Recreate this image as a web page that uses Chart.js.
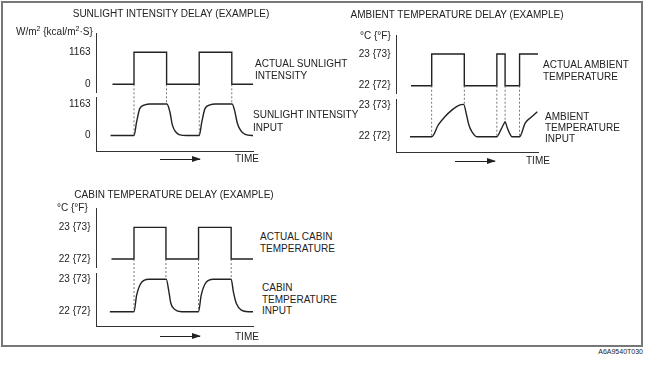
<!DOCTYPE html>
<html>
<head>
<meta charset="utf-8">
<title>Sensor delay (example)</title>
<script src="https://cdn.jsdelivr.net/npm/chart.js@4.4.1/dist/chart.umd.min.js"></script>
<style>
  body { margin: 0; background: #fff; }
  #page { position: relative; width: 645px; height: 367px; overflow: hidden; font-family: "Liberation Sans", Arial, sans-serif; font-size: 10px; color: #222; }
  #frame { position: absolute; left: 1px; top: 1px; width: 642px; height: 346px; border: 2px solid #777; box-sizing: border-box; }
  canvas { position: absolute; }
  .txt { position: absolute; white-space: nowrap; line-height: 12px; }
  .ttl { transform: translateX(-50%); }
  .arrow { position: absolute; width: 40px; height: 1px; background: #222; }
  .arrow:after { content: ""; position: absolute; right: -1px; top: -3px; border-left: 9px solid #222; border-top: 3.5px solid transparent; border-bottom: 3.5px solid transparent; }
  sup { font-size: 7px; vertical-align: 0; position: relative; top: -4px; }
  #code { position: absolute; right: 2px; top: 348px; font-size: 7px; line-height: 8px; }
</style>
</head>
<body>
<div id="page">
  <div id="frame"></div>
  <canvas id="sun" width="260" height="160" style="left:0;top:0"></canvas>
  <canvas id="amb" width="250" height="165" style="left:300px;top:0"></canvas>
  <canvas id="cab" width="260" height="160" style="left:0;top:175px"></canvas>

  <!-- titles -->
  <div class="txt ttl" style="left:171px;top:8px">SUNLIGHT INTENSITY DELAY (EXAMPLE)</div>
  <div class="txt ttl" style="left:457px;top:9px">AMBIENT TEMPERATURE DELAY (EXAMPLE)</div>
  <div class="txt ttl" style="left:174px;top:189px">CABIN TEMPERATURE DELAY (EXAMPLE)</div>

  <!-- units -->
  <div class="txt" style="left:16px;top:26px">W/m<sup>2</sup> {kcal/m<sup>2</sup>·S}</div>
  <div class="txt" style="left:360px;top:30px">°C {°F}</div>
  <div class="txt" style="left:57px;top:202px">°C {°F}</div>

  <!-- signal names -->
  <div class="txt" style="left:255px;top:58px">ACTUAL SUNLIGHT<br>INTENSITY</div>
  <div class="txt" style="left:253px;top:109px;line-height:12.5px">SUNLIGHT INTENSITY<br>INPUT</div>
  <div class="txt" style="left:543px;top:59px;line-height:11.5px">ACTUAL AMBIENT<br>TEMPERATURE</div>
  <div class="txt" style="left:545px;top:111px;line-height:11.2px">AMBIENT<br>TEMPERATURE<br>INPUT</div>
  <div class="txt" style="left:260px;top:231px;line-height:11.6px">ACTUAL CABIN<br>TEMPERATURE</div>
  <div class="txt" style="left:262px;top:282px;line-height:11.7px">CABIN<br>TEMPERATURE<br>INPUT</div>

  <!-- time arrows -->
  <div class="arrow" style="left:160px;top:159px"></div>
  <div class="txt" style="left:235px;top:153px">TIME</div>
  <div class="arrow" style="left:455px;top:161px"></div>
  <div class="txt" style="left:526px;top:155px">TIME</div>
  <div class="arrow" style="left:160px;top:336px"></div>
  <div class="txt" style="left:235px;top:331px">TIME</div>

  <div id="code">A6A9540T030</div>
</div>

<script>
// sunlight intensity (W/m2)
const sunActualTime = [4.9, 11.5, 21.5, 31.5, 41.5, 48];
const sunActualValue = [0, 1163, 0, 1163, 0, 0];
const sunInputTime = [4.3, 11.5, 12.3, 13.3, 14.8, 16.4, 21.6, 22.5, 23.3, 24.4, 25.6, 27.6, 31.5, 32.3, 33.3, 34.8, 36.4, 41.6, 42.4, 43.2, 44.3, 45.6, 47.6, 48];
const sunInputValue = [0, 0, 500, 1000, 1130, 1163, 1163, 875, 375, 120, 25, 0, 0, 500, 1000, 1130, 1163, 1163, 900, 450, 170, 40, 0, 0];
const sunTicks = [0, 1163];
const sunTickLabels = ['0', '1163'];
const sunDelayTime = [11.5, 21.5, 31.5, 41.5];
const sunDelayInput = [0, 1163, 0, 1163];

// ambient temperature (deg C)
const ambActualTime = [4.4, 10.7, 20.6, 30.5, 33.0, 37.4, 43];
const ambActualValue = [22, 23, 22, 23, 22, 23, 23];
const ambInputTime = [4.1, 10.7, 12.7, 14.7, 16.8, 18.8, 20.4, 21.3, 22.0, 22.9, 24.4, 25.9, 30.5, 31.8, 32.6, 33.0, 33.6, 34.4, 35.1, 37.4, 39.1, 41.0, 42.8];
const ambInputValue = [22, 22, 22.37, 22.63, 22.84, 22.98, 23.02, 22.68, 22.37, 22.16, 22.0, 22, 22, 22.24, 22.4, 22.47, 22.3, 22.1, 22, 22, 22.43, 22.62, 22.79];
const ambDelayTime = [10.7, 20.6, 30.5, 33.0, 37.4];
const ambDelayInput = [22, 23.02, 22, 22.47, 22];

// cabin temperature (deg C)
const cabActualTime = [4.6, 11.5, 21.3, 31.3, 41.3, 48];
const cabActualValue = [22, 23, 22, 23, 22, 22];
const cabInputTime = [4.1, 11.5, 12.3, 13.8, 16.0, 21.4, 22.2, 22.8, 24.0, 26.1, 31.3, 32.1, 33.6, 35.8, 41.3, 42.0, 42.9, 44.4, 46.5, 48];
const cabInputValue = [22, 22, 22.5, 22.9, 23, 23, 22.62, 22.26, 22.07, 22, 22, 22.5, 22.9, 23, 23, 22.6, 22.25, 22.05, 22, 22];
const tempTicks = [22, 23];
const tempTickLabels = ['22 {72}', '23 {73}'];
const cabDelayTime = [11.5, 21.3, 31.3, 41.3];
const cabDelayInput = [22, 23, 22, 23];

Chart.defaults.font.family = '"Liberation Sans", Arial, sans-serif';
Chart.defaults.font.size = 10;
Chart.defaults.color = '#222';

function pairs(xs, ys) {
    return xs.map((x, i) => ({ x: x, y: ys[i] }));
}

// dashed lines from the actual signal down to the input signal
function delayLines(times, base, to) {
    return {
        id: 'delayLines',
        afterDatasetsDraw(chart) {
            const ctx = chart.ctx, s = chart.scales;
            ctx.save();
            ctx.strokeStyle = '#555';
            ctx.lineWidth = 0.8;
            ctx.setLineDash([2, 2]);
            times.forEach((t, i) => {
                const x = s.x.getPixelForValue(t);
                ctx.beginPath();
                ctx.moveTo(x, s.yTop.getPixelForValue(base));
                ctx.lineTo(x, s.yBot.getPixelForValue(to[i]));
                ctx.stroke();
            });
            ctx.restore();
        }
    };
}

function yAxis(min, max, part, order, ticks, labels) {
    return {
        type: 'linear', position: 'left', stack: 'p', stackWeight: part, weight: order,
        min: min, max: max,
        grid: { display: false, drawTicks: false },
        border: { color: '#333', width: 1 },
        ticks: { padding: 6, font: { size: 10 }, callback: (v, i) => labels[i] },
        afterBuildTicks: s => { s.ticks = ticks.map(v => ({ value: v })); },
        afterFit: s => { s.width = 50; s.paddingTop = 0; s.paddingBottom = 0; }
    };
}

function drawPanel(id, p) {
    return new Chart(document.getElementById(id), {
        type: 'line',
        data: {
            datasets: [
                { data: pairs(p.actualTime, p.actualValue), yAxisID: 'yTop', stepped: true },
                { data: pairs(p.inputTime, p.inputValue), yAxisID: 'yBot', cubicInterpolationMode: 'monotone' }
            ]
        },
        options: {
            responsive: false,
            animation: false,
            layout: { padding: p.padding },
            plugins: { legend: { display: false }, tooltip: { enabled: false } },
            elements: {
                point: { radius: 0 },
                line: { borderColor: '#222', borderWidth: 1.4, fill: false }
            },
            scales: {
                x: {
                    type: 'linear', min: 0, max: p.xMax,
                    ticks: { display: false }, grid: { display: false, drawTicks: false },
                    border: { color: '#333', width: 1 },
                    afterFit: s => { s.height = 0; }
                },
                yTop: yAxis(p.top[0], p.top[1], p.parts[0], 3, p.ticks, p.labels),
                yGap: {
                    type: 'linear', position: 'left', stack: 'p', stackWeight: p.parts[1], weight: 2,
                    min: 0, max: 1, grid: { display: false, drawTicks: false }, border: { display: false },
                    ticks: { display: false },
                    afterFit: s => { s.width = 50; s.paddingTop = 0; s.paddingBottom = 0; }
                },
                yBot: yAxis(p.bot[0], p.bot[1], p.parts[2], 1, p.ticks, p.labels)
            }
        },
        plugins: [delayLines(p.delayTime, p.ticks[0], p.delayInput)]
    });
}

drawPanel('sun', {
    actualTime: sunActualTime, actualValue: sunActualValue,
    inputTime: sunInputTime, inputValue: sunInputValue,
    ticks: sunTicks, labels: sunTickLabels,
    delayTime: sunDelayTime, delayInput: sunDelayInput,
    xMax: 48, top: [-280, 1864], bot: [-590, 1421], parts: [59, 5, 54.5],
    padding: { top: 33, right: 7, bottom: 8.5, left: 46.5 }
});

drawPanel('amb', {
    actualTime: ambActualTime, actualValue: ambActualValue,
    inputTime: ambInputTime, inputValue: ambInputValue,
    ticks: tempTicks, labels: tempTickLabels,
    delayTime: ambDelayTime, delayInput: ambDelayInput,
    xMax: 43, top: [21.754, 23.6], bot: [21.517, 23.19], parts: [58.5, 5.5, 53],
    padding: { top: 35, right: 12, bottom: 13, left: 46.5 }
});

drawPanel('cab', {
    actualTime: cabActualTime, actualValue: cabActualValue,
    inputTime: cabInputTime, inputValue: cabInputValue,
    ticks: tempTicks, labels: tempTickLabels,
    delayTime: cabDelayTime, delayInput: cabDelayInput,
    xMax: 48, top: [21.75, 23.61], bot: [21.54, 23.19], parts: [59, 6, 53.7],
    padding: { top: 33, right: 7, bottom: 8.3, left: 46.5 }
});
</script>
</body>
</html>
